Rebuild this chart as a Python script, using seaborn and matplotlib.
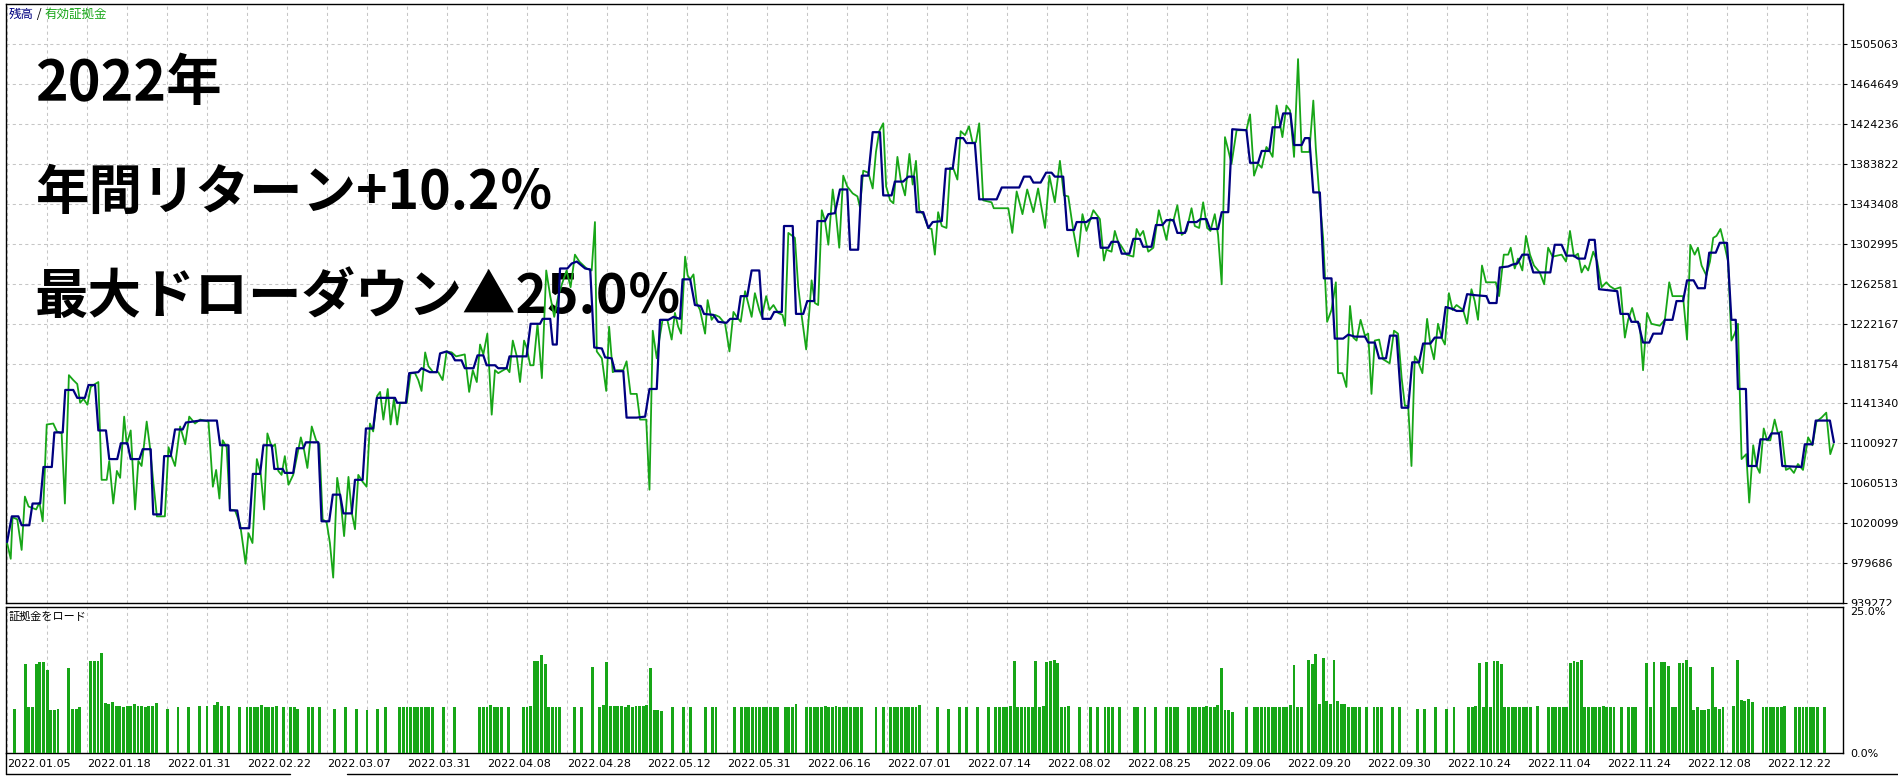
import numpy as np
import pandas as pd
import matplotlib
matplotlib.use("Agg")
import matplotlib.pyplot as plt
from matplotlib.lines import Line2D
from matplotlib.patches import Rectangle
import seaborn as sns

# price scale printed on the right of the tester graph
y_ticks = [939272, 979686, 1020099, 1060513, 1100927, 1141340, 1181754, 1222167,
           1262581, 1302995, 1343408, 1383822, 1424236, 1464649, 1505063]

date_labels = ["2022.01.05", "2022.01.18", "2022.01.31", "2022.02.22", "2022.03.07",
               "2022.03.31", "2022.04.08", "2022.04.28", "2022.05.12", "2022.05.31",
               "2022.06.16", "2022.07.01", "2022.07.14", "2022.08.02", "2022.08.25",
               "2022.09.06", "2022.09.20", "2022.09.30", "2022.10.24", "2022.11.04",
               "2022.11.24", "2022.12.08", "2022.12.22"]

headline = ["2022年", "年間リターン+10.2％", "最大ドローダウン▲25.0％"]

# 有効証拠金 (equity): (trade position, thousand yen)
equity_pts = [
    (0, 1000), (1.0, 984), (1.5, 1026), (2.8, 1024), (4.0, 993), (4.9, 1047), (5.9, 1037), (8.0, 1034), (8.9, 1041), (9.8, 1022),
    (10.9, 1120), (12.7, 1121), (13.7, 1113), (15.0, 1111), (15.9, 1040), (17.0, 1170), (18.2, 1165), (19.3, 1161), (20.1, 1142), (21.0, 1146),
    (22.1, 1140), (23.0, 1158), (24.2, 1161), (25.1, 1163), (26.0, 1064), (27.4, 1064), (28.1, 1083), (29.2, 1040), (30.2, 1073), (31.1, 1066),
    (32.2, 1128), (32.9, 1100), (34.0, 1114), (35.2, 1034), (36.1, 1083), (37.0, 1078), (38.4, 1123), (39.3, 1097), (40.1, 1066), (41.2, 1027),
    (43.4, 1027), (44.4, 1097), (45.3, 1087), (46.2, 1078), (47.6, 1118), (49.0, 1100), (50.1, 1128), (51.7, 1121), (53.1, 1125), (55.4, 1123),
    (56.6, 1057), (57.5, 1074), (58.4, 1045), (59.3, 1104), (60.4, 1097), (61.3, 1034), (62.7, 1033), (64.1, 1019), (65.6, 979), (66.4, 1010),
    (67.5, 1000), (68.7, 1085), (69.8, 1069), (70.7, 1034), (71.6, 1111), (72.8, 1097), (73.7, 1100), (74.6, 1073), (75.5, 1069), (76.4, 1088),
    (77.4, 1059), (78.7, 1069), (80.8, 1107), (81.7, 1094), (82.6, 1076), (83.8, 1118), (85.0, 1104), (85.9, 1100), (86.8, 1024), (87.9, 1021),
    (88.8, 1000), (89.7, 965), (90.8, 1066), (91.6, 1048), (92.7, 1007), (93.9, 1067), (94.8, 1031), (95.7, 1014), (96.6, 1069), (97.8, 1062),
    (98.9, 1057), (99.8, 1121), (100.7, 1113), (101.8, 1149), (102.6, 1153), (103.5, 1125), (104.7, 1156), (105.5, 1120), (106.4, 1146), (107.3, 1120),
    (108.1, 1142), (109.9, 1142), (111.0, 1172), (112.2, 1172), (113.1, 1165), (114.0, 1154), (115.0, 1193), (115.9, 1179), (117.2, 1173), (118.6, 1173),
    (119.8, 1165), (120.9, 1194), (122.3, 1193), (123.5, 1189), (125.9, 1191), (127.1, 1153),
    (128.1, 1175), (129.2, 1163), (130.1, 1201), (131.0, 1191), (132.1, 1212), (133.3, 1130), (134.2, 1175), (135.1, 1172), (137.4, 1177), (138.2, 1173),
    (139.1, 1205), (140.2, 1189), (141.1, 1163), (142.2, 1205), (142.9, 1198), (143.9, 1180), (144.8, 1180), (145.9, 1222), (147.1, 1167), (148.3, 1276),
    (149.4, 1250), (150.5, 1229), (151.6, 1250), (152.6, 1262), (153.9, 1276), (155.0, 1259), (156.2, 1292), (157.4, 1285), (159.4, 1278), (160.8, 1276),
    (161.7, 1325), (162.2, 1194), (163.6, 1187), (164.8, 1154), (165.6, 1219), (166.6, 1173), (167.7, 1175), (169.5, 1175), (170.4, 1184), (171.5, 1151),
    (173.2, 1151), (174.1, 1125), (175.8, 1125), (176.7, 1054), (177.6, 1215), (178.7, 1187), (179.4, 1206), (180.3, 1226), (181.6, 1226), (182.8, 1206),
    (183.7, 1233), (184.6, 1219), (185.4, 1212), (186.5, 1290), (187.2, 1271), (187.9, 1267), (188.8, 1272), (189.7, 1243), (190.6, 1236), (192.0, 1212),
    (192.7, 1246), (193.8, 1226), (194.7, 1231), (195.9, 1229), (197.5, 1222), (198.7, 1194), (199.8, 1234), (200.7, 1229), (201.8, 1224), (203.0, 1255),
    (204.8, 1229), (205.7, 1253), (206.9, 1236), (207.6, 1229), (208.8, 1250), (209.7, 1236), (210.8, 1241), (212.1, 1233), (213.3, 1231), (214.0, 1220),
    (214.9, 1314), (216.7, 1309), (217.6, 1260), (218.6, 1229), (219.8, 1196), (220.7, 1236), (221.3, 1266), (222.2, 1243), (223.1, 1241), (224.1, 1337),
    (225.0, 1326), (225.9, 1302), (227.1, 1358), (228.0, 1333), (228.9, 1299), (230.0, 1372), (231.1, 1361), (232.6, 1354), (233.9, 1351), (234.6, 1340),
    (235.5, 1377), (236.9, 1375), (238.1, 1359), (239.0, 1396), (239.9, 1417), (241.0, 1425), (241.8, 1361), (242.9, 1347), (243.8, 1344), (244.9, 1391),
    (245.8, 1368), (247.0, 1352), (248.2, 1394), (249.1, 1363), (250.0, 1387), (250.9, 1337), (252.0, 1333), (253.4, 1319),
    (254.3, 1318), (255.2, 1292), (256.1, 1335), (257.1, 1321), (258.4, 1319), (259.4, 1380), (260.3, 1379), (261.4, 1368), (262.3, 1417), (263.5, 1413),
    (264.6, 1422), (265.6, 1405), (266.5, 1406), (267.4, 1425), (268.5, 1347), (270.8, 1345), (271.4, 1339), (275.4, 1339), (276.5, 1314), (277.7, 1356),
    (279.3, 1333), (280.6, 1358), (282.3, 1335), (283.6, 1359), (285.5, 1319), (286.7, 1372), (288.2, 1345), (289.6, 1387), (290.7, 1352), (291.9, 1351),
    (293.3, 1316), (294.6, 1290), (295.8, 1333), (296.9, 1316), (298.8, 1337), (300.6, 1328), (301.7, 1286), (302.4, 1297), (303.8, 1295), (304.7, 1316),
    (305.6, 1305), (306.6, 1300), (307.9, 1292), (309.8, 1290), (310.7, 1318), (311.6, 1311), (312.5, 1316), (313.9, 1295), (315.3, 1299), (316.8, 1337),
    (317.8, 1323), (318.9, 1307), (319.9, 1328), (320.8, 1326), (321.9, 1342), (323.1, 1312), (324.4, 1316), (325.8, 1339), (326.7, 1321), (327.9, 1319),
    (329.0, 1345), (330.1, 1319), (331.0, 1316), (332.2, 1333), (333.1, 1312), (334.1, 1262), (335.0, 1411), (335.9, 1398), (336.8, 1384), (338.2, 1418),
    (340.9, 1418), (341.9, 1434), (343.0, 1372), (344.1, 1384), (345.1, 1380), (346.4, 1401), (347.4, 1396), (348.1, 1391), (349.2, 1443), (350.1, 1425),
    (350.8, 1411), (351.9, 1443), (352.9, 1438), (354.0, 1391), (355.1, 1490), (356.1, 1396), (358.2, 1396), (359.3, 1448), (360.0, 1399), (360.9, 1354),
    (362.0, 1309), (363.1, 1224), (364.3, 1236), (365.5, 1264), (366.1, 1172), (367.3, 1172), (368.4, 1158), (369.4, 1240), (370.3, 1208), (371.2, 1205),
    (372.3, 1226), (373.5, 1210), (374.4, 1212), (375.3, 1151), (376.2, 1205), (377.4, 1206), (378.5, 1186), (380.3, 1182),
    (381.5, 1215), (382.6, 1212), (383.6, 1167), (384.5, 1139), (385.4, 1139), (386.3, 1078), (387.2, 1189), (388.1, 1184), (389.3, 1172), (390.6, 1227),
    (391.5, 1201), (392.5, 1186), (393.6, 1222), (394.6, 1208), (395.5, 1201), (396.6, 1253), (397.6, 1236), (398.7, 1241), (400.5, 1236), (401.6, 1222),
    (402.8, 1257), (403.7, 1245), (404.6, 1226), (405.7, 1281), (406.8, 1264), (409.5, 1264), (410.4, 1250), (411.7, 1292), (412.9, 1292), (413.6, 1299),
    (414.7, 1278), (415.6, 1288), (416.8, 1276), (417.8, 1311), (418.9, 1292), (420.0, 1281), (421.6, 1274), (422.8, 1262), (423.9, 1299), (425.1, 1290),
    (427.6, 1292), (428.8, 1285), (429.9, 1316), (431.0, 1290), (432.1, 1293), (433.1, 1274), (434.0, 1281), (434.9, 1276), (436.3, 1295), (437.4, 1285),
    (438.6, 1259), (439.9, 1264), (440.9, 1260), (442.2, 1257), (443.8, 1259), (445.0, 1208), (445.9, 1226), (447.0, 1238), (448.0, 1224), (449.1, 1222),
    (450.0, 1175), (451.1, 1233), (452.3, 1222), (454.6, 1220), (456.0, 1226), (457.2, 1264), (458.1, 1250), (461.0, 1250), (462.1, 1206), (463.0, 1302),
    (464.2, 1292), (465.1, 1299), (466.1, 1281), (467.4, 1271), (468.4, 1285), (469.3, 1309), (470.2, 1311), (471.3, 1318), (472.5, 1300), (473.4, 1285),
    (474.3, 1205), (475.2, 1212), (476.1, 1222), (477.1, 1085), (478.4, 1090), (479.2, 1041), (480.3, 1099), (481.2, 1078), (482.1, 1071), (483.2, 1116),
    (484.1, 1104), (485.0, 1104), (486.2, 1125), (487.1, 1111), (488.1, 1113), (489.3, 1074), (490.4, 1076), (491.5, 1071), (492.6, 1080), (494.0, 1074),
    (495.4, 1107), (496.6, 1099), (497.7, 1123), (499.1, 1127), (500.4, 1132), (501.5, 1090), (502.4, 1100),
]

# 残高 (balance): (trade position, thousand yen)
balance_pts = [
    (0, 1001), (1.3, 1027), (3.1, 1027), (4.0, 1018), (6.1, 1018), (7.0, 1040), (9.1, 1040), (10.0, 1077), (12.3, 1077), (13.0, 1112),
    (15.3, 1112), (16.0, 1155), (18.2, 1155), (19.3, 1147), (21.4, 1147), (22.4, 1160), (24.2, 1160), (25.1, 1114), (27.2, 1114), (28.1, 1085),
    (30.3, 1085), (31.3, 1101), (33.1, 1101), (34.0, 1085), (36.4, 1085), (37.3, 1095), (39.5, 1095), (40.2, 1029), (42.3, 1029), (43.2, 1088),
    (45.0, 1088), (46.2, 1115), (48.3, 1115), (49.2, 1122), (53.1, 1124), (57.7, 1124), (58.6, 1099), (60.9, 1099), (61.3, 1033), (63.3, 1033),
    (64.1, 1015), (66.6, 1015), (67.6, 1070), (69.6, 1070), (70.5, 1099), (72.8, 1099), (73.5, 1075), (75.8, 1075), (76.4, 1071), (78.7, 1071),
    (79.7, 1096), (81.5, 1096), (82.2, 1102), (85.6, 1102), (86.5, 1022), (88.6, 1022), (89.6, 1049), (91.6, 1049), (92.5, 1030), (94.8, 1030),
    (95.7, 1064), (97.8, 1064), (98.7, 1116), (100.7, 1116), (101.7, 1147), (106.7, 1147), (107.3, 1142), (109.7, 1142), (110.6, 1172), (113.1, 1173),
    (114.0, 1177), (116.3, 1173), (118.2, 1173), (119.1, 1192), (120.9, 1194), (122.3, 1191), (123.2, 1185), (125.0, 1185), (125.9, 1177),
    (128.3, 1177), (129.4, 1190), (131.0, 1190), (131.9, 1180), (134.2, 1180), (135.1, 1177), (137.4, 1177), (138.2, 1189), (142.9, 1189), (144.0, 1222),
    (146.6, 1222), (147.3, 1227), (149.4, 1227), (150.1, 1201), (151.2, 1201), (152.1, 1278), (154.1, 1278), (155.3, 1283), (156.7, 1285), (159.0, 1278),
    (160.4, 1277), (161.5, 1198), (163.6, 1197), (164.5, 1188), (166.3, 1187), (167.2, 1174), (169.5, 1174), (170.4, 1127), (173.2, 1127), (175.5, 1128),
    (176.7, 1156), (178.7, 1156), (179.6, 1226), (181.9, 1226), (183.3, 1229), (185.1, 1227), (185.8, 1267), (187.9, 1267), (189.2, 1241), (190.8, 1240),
    (191.7, 1232), (194.3, 1231), (195.6, 1224), (197.9, 1223), (198.9, 1227), (200.9, 1227), (201.8, 1250), (203.6, 1250), (204.8, 1276), (206.9, 1276),
    (207.8, 1227), (210.0, 1227), (211.0, 1234), (213.1, 1234), (213.7, 1321), (216.1, 1321), (217.0, 1232), (219.0, 1232), (220.1, 1245), (222.0, 1245),
    (222.9, 1326), (225.0, 1326), (225.9, 1333), (227.7, 1334), (229.1, 1358), (231.1, 1358), (231.9, 1297), (234.1, 1297), (235.1, 1372), (236.9, 1372),
    (238.1, 1416), (240.1, 1416), (241.0, 1352), (243.3, 1352), (244.2, 1366), (246.5, 1366), (247.9, 1371), (249.5, 1371), (250.2, 1335), (252.0, 1335),
    (253.4, 1319),
    (254.6, 1325), (257.1, 1326), (258.2, 1379), (260.1, 1379), (261.2, 1410), (263.0, 1410), (263.9, 1405), (266.2, 1405), (267.4, 1348), (272.2, 1348),
    (273.6, 1360), (278.4, 1360), (279.7, 1371), (281.4, 1371), (282.3, 1365), (284.3, 1365), (285.8, 1375), (287.3, 1375), (288.2, 1371), (290.5, 1371),
    (291.6, 1317), (293.5, 1317), (294.2, 1325), (296.9, 1325), (298.3, 1329), (299.9, 1329), (300.8, 1299), (302.9, 1299), (303.8, 1305), (305.6, 1305),
    (306.6, 1293), (308.7, 1293), (309.8, 1308), (311.6, 1308), (312.5, 1300), (314.8, 1300), (316.0, 1322), (317.8, 1322), (318.9, 1327), (320.8, 1327),
    (321.9, 1314), (324.0, 1314), (324.9, 1325), (327.2, 1325), (328.3, 1328), (329.9, 1328), (330.9, 1318), (333.1, 1318), (334.1, 1335), (335.9, 1335),
    (337.0, 1419), (340.9, 1418), (341.9, 1385), (344.1, 1385), (345.1, 1397), (347.2, 1397), (348.1, 1421), (350.1, 1421), (351.0, 1435), (353.0, 1435),
    (354.0, 1403), (356.1, 1403), (357.0, 1410), (358.2, 1410), (359.3, 1355), (361.1, 1355), (362.2, 1268), (364.3, 1268), (365.2, 1207), (367.5, 1207),
    (368.9, 1211), (370.7, 1209), (373.5, 1209), (374.4, 1203), (376.2, 1203), (377.4, 1187), (379.3, 1187), (380.4, 1210),
    (382.2, 1210), (383.6, 1137), (385.4, 1137), (386.5, 1183), (388.4, 1183), (389.5, 1202), (391.5, 1202), (392.7, 1208), (394.6, 1208), (395.7, 1239),
    (397.6, 1237), (398.7, 1235), (400.5, 1235), (401.6, 1252), (403.7, 1251), (406.9, 1250), (407.7, 1243), (409.7, 1243), (410.6, 1279), (412.9, 1280),
    (414.1, 1282), (415.4, 1283), (416.8, 1292), (418.4, 1292), (419.8, 1274), (424.5, 1274), (425.7, 1302), (427.6, 1302), (428.9, 1291), (430.9, 1291),
    (432.1, 1288), (434.0, 1288), (435.2, 1307), (436.7, 1307), (437.9, 1257), (442.9, 1255), (443.8, 1232), (445.9, 1232), (446.8, 1224), (448.6, 1224),
    (450.0, 1203), (451.7, 1203), (452.8, 1212), (455.1, 1212), (456.0, 1226), (458.1, 1226), (459.2, 1245), (461.0, 1245), (462.1, 1266), (463.9, 1266),
    (465.1, 1258), (467.0, 1258), (468.2, 1294), (470.0, 1294), (471.1, 1304), (473.1, 1304), (474.3, 1226), (475.5, 1226), (476.1, 1156), (478.3, 1156),
    (478.9, 1078), (481.2, 1078), (482.3, 1105), (484.4, 1105), (485.3, 1111), (487.4, 1111), (488.3, 1078), (493.6, 1077), (494.5, 1100), (496.6, 1100),
    (497.5, 1124), (501.4, 1124), (502.5, 1102),
]

# 証拠金をロード (margin load %): (trade position, percent)
load_bars = [
    (2, 7.6), (5, 15.2), (6, 7.9), (7, 7.9), (8, 15.3), (9, 15.5), (10, 15.5), (11, 14.2), (12, 7.3), (13, 7.3), (14, 7.5),
    (17, 14.5), (18, 7.6), (19, 7.6), (20, 7.8),
    (23, 15.7), (24, 15.7), (25, 15.7), (26, 17.2), (27, 8.6), (28, 8.4), (29, 8.8), (30, 8.0), (31, 8.1), (32, 7.9), (33, 8.0),
    (34, 8.0), (35, 8.4), (36, 8.0), (37, 8.0), (38, 7.8), (39, 8.0), (40, 8.0), (41, 8.5),
    (44, 7.5), (47, 7.8), (50, 7.8), (53, 8.0), (55, 8.0), (57, 8.3), (58, 8.7), (59, 8.1), (61, 8.0),
    (64, 7.9), (66, 7.9), (67, 7.8), (68, 7.9), (69, 7.9), (70, 8.2), (71, 7.8), (72, 7.9), (73, 7.9), (74, 8.0), (76, 7.8),
    (78, 7.9), (79, 7.9), (80, 7.6), (83, 7.8), (84, 7.9), (86, 7.9), (90, 7.6), (93, 7.8), (96, 7.6), (99, 7.4), (102, 7.6), (104, 7.8),
    (108, 7.8), (109, 7.9), (110, 7.9), (111, 7.9), (112, 7.8), (113, 7.9), (114, 7.9), (115, 7.8), (116, 7.9), (117, 7.9), (120, 7.8), (123, 7.9),
    (130, 7.9), (131, 7.9), (132, 7.8), (133, 8.3), (134, 7.9), (135, 7.9), (136, 7.9), (138, 7.8), (142, 7.8), (143, 7.9), (144, 8.1),
    (145, 15.7), (146, 15.7), (147, 16.7), (148, 15.2), (149, 7.9), (150, 7.9), (151, 7.9), (152, 7.9), (156, 7.8), (158, 7.9),
    (161, 14.7), (163, 7.9), (164, 8.2), (165, 15.5), (166, 8.0), (167, 8.0), (168, 8.0), (169, 8.0), (170, 7.9), (171, 8.2),
    (172, 7.9), (173, 8.0), (174, 8.1), (175, 8.0), (176, 8.3), (177, 14.5), (178, 7.4), (179, 7.4), (180, 7.2), (183, 7.8), (186, 7.8), (188, 7.9),
    (192, 7.9), (194, 7.9), (195, 7.9), (200, 7.9), (202, 7.8), (203, 7.9), (204, 7.9), (205, 7.9), (206, 7.9), (207, 7.9), (208, 7.9),
    (209, 7.9), (210, 7.9), (211, 7.9), (212, 7.9), (214, 7.9), (215, 7.9), (216, 7.9), (217, 8.4),
    (220, 7.9), (221, 7.9), (222, 7.9), (223, 7.8), (224, 7.9), (225, 8.1), (226, 7.8), (227, 7.9), (228, 8.1), (229, 7.8), (230, 7.9),
    (231, 7.9), (232, 7.9), (233, 7.9), (234, 7.9), (235, 7.8), (239, 7.8), (241, 7.9), (243, 7.9), (244, 7.9), (245, 7.8), (246, 7.9),
    (247, 7.9), (248, 7.8), (249, 7.9), (250, 7.9), (251, 8.2), (256, 7.8), (259, 7.6), (262, 7.8), (264, 7.9), (267, 7.8),
    (270, 7.9), (272, 7.9), (273, 7.9), (274, 7.9), (275, 7.9), (276, 8.1), (277, 15.7), (278, 7.9), (279, 7.9), (280, 7.9), (281, 7.9),
    (282, 7.9), (283, 15.7), (284, 7.9), (285, 8.1), (286, 15.5), (287, 15.7), (288, 15.9), (289, 15.4), (290, 7.9), (291, 7.9), (292, 8.1),
    (295, 7.9), (298, 7.9), (300, 7.9), (302, 7.9), (303, 7.9), (304, 7.8), (306, 7.9), (310, 7.9), (311, 7.9), (313, 7.9), (316, 7.8),
    (319, 7.9), (320, 7.9), (321, 7.8), (322, 7.9), (325, 7.9), (326, 7.9), (327, 7.9), (328, 7.8), (329, 7.9), (330, 8.1), (331, 7.9),
    (332, 7.9), (333, 8.2), (334, 14.5), (335, 7.3), (336, 7.4), (337, 7.1), (341, 7.8), (343, 7.9), (344, 7.9), (345, 7.9), (346, 7.9),
    (347, 7.9), (348, 7.8), (349, 7.9), (350, 7.9), (351, 7.9), (352, 7.9), (353, 8.2), (354, 15.0), (355, 7.9),
    (356, 7.9), (358, 15.9), (359, 15.2), (360, 16.9), (361, 8.4), (362, 16.2), (363, 8.9), (364, 8.4), (365, 16.0), (366, 8.9),
    (367, 8.4), (368, 8.4), (369, 7.9), (370, 7.9), (371, 7.9), (372, 7.9), (374, 7.9), (376, 7.9), (377, 7.8), (378, 7.9), (381, 7.8),
    (383, 7.9), (388, 7.6), (390, 7.6), (393, 7.8), (396, 7.6), (398, 7.9),
    (402, 7.9), (403, 7.9), (404, 8.1), (405, 15.4), (406, 7.9), (407, 15.5), (408, 7.9), (409, 15.7), (410, 15.7), (411, 15.2),
    (412, 7.8), (413, 7.8), (414, 7.8), (415, 7.9), (416, 7.9), (417, 7.8), (418, 7.9), (419, 7.9), (421, 8.1),
    (424, 7.9), (425, 7.9), (426, 7.9), (427, 7.8), (428, 7.9), (429, 7.9), (430, 15.4), (431, 15.7), (432, 15.5), (433, 15.9),
    (434, 7.9), (435, 7.9), (436, 7.9), (437, 7.9), (438, 7.8), (439, 8.1), (440, 7.9), (441, 7.9), (442, 7.9),
    (444, 7.9), (446, 7.9), (447, 7.9), (448, 7.9), (451, 15.4), (452, 7.9), (453, 15.5), (455, 15.5), (456, 15.5), (457, 14.9),
    (458, 7.9), (459, 7.9), (460, 15.4), (461, 15.4), (462, 15.9), (463, 14.7), (464, 7.3), (465, 7.8), (466, 7.3), (467, 7.3),
    (468, 7.5), (469, 14.7), (470, 7.8), (471, 7.6), (472, 7.8), (475, 8.1), (476, 15.9), (477, 9.1), (478, 8.9), (479, 9.3), (480, 8.8),
    (483, 7.8), (484, 7.9), (485, 7.9), (486, 7.8), (487, 7.9), (488, 7.9), (489, 8.1),
    (492, 7.9), (493, 7.9), (494, 7.9), (495, 7.9), (496, 7.9), (497, 7.9), (498, 7.8), (500, 7.9),
]

GREEN = "#17a617"
NAVY = "#000080"
GRID = "#c6c6c6"
CJK = ["Noto Sans CJK JP", "DejaVu Sans"]

sns.set_style("white")
plt.rcParams["font.family"] = ["DejaVu Sans", "Noto Sans CJK JP"]
plt.rcParams["axes.edgecolor"] = "black"

W, H = 1898, 776
fig = plt.figure(figsize=(W / 100, H / 100), dpi=100)
fig.patch.set_facecolor("white")


def box(left, top, right, bottom):
    # pixel box -> figure fraction
    return [left / W, 1 - bottom / H, (right - left) / W, (bottom - top) / H]


def fpos(x, y):
    return x / W, 1 - y / H


ax = fig.add_axes(box(6, 4, 1843, 603))
ax_load = fig.add_axes(box(6, 607, 1843, 753))
ax_load.set_zorder(2)

eq = pd.DataFrame(equity_pts, columns=["pos", "value"])
eq["value"] = eq["value"] * 1000
bal = pd.DataFrame(balance_pts, columns=["pos", "value"])
bal["value"] = bal["value"] * 1000
load = pd.DataFrame(load_bars, columns=["pos", "pct"])

sns.lineplot(data=eq, x="pos", y="value", ax=ax, color=GREEN, linewidth=1.3,
             estimator=None, sort=False, legend=False, zorder=3)
sns.lineplot(data=bal, x="pos", y="value", ax=ax, color=NAVY, linewidth=1.6,
             estimator=None, sort=False, legend=False, zorder=4)
ax_load.bar(load["pos"], load["pct"], width=0.8, color=GREEN, linewidth=0, zorder=3)

x_max = 505
label_step = 22
for a in (ax, ax_load):
    a.set_xlim(-0.3, x_max)
    a.set_xticks(np.arange(0, x_max, label_step))
    a.set_xticks(np.arange(label_step / 2, x_max, label_step), minor=True)
    a.grid(True, which="both", axis="x", color=GRID, linestyle=(0, (3, 3)), linewidth=0.75)
    a.set_xlabel("")
    a.set_ylabel("")
    for s in a.spines.values():
        s.set_color("black")
        s.set_linewidth(1.0)
    a.set_axisbelow(True)

# main panel
ax.set_ylim(y_ticks[0], 1545800)
ax.set_yticks(y_ticks)
ax.set_yticklabels([str(v) for v in y_ticks])
ax.yaxis.tick_right()
ax.grid(True, which="major", axis="y", color=GRID, linestyle=(0, (3, 3)), linewidth=0.75)
ax.tick_params(axis="y", direction="out", length=3, width=0.8, pad=2, labelsize=8, colors="black")
ax.tick_params(axis="x", which="both", length=0, labelbottom=False)

# margin load panel
ax_load.set_ylim(0, 25)
ax_load.set_yticks([0, 25])
ax_load.set_yticklabels(["0.0%", "25.0%"])
ax_load.yaxis.tick_right()
ax_load.get_yticklabels()[1].set_va("top")
ax_load.tick_params(axis="y", direction="out", length=0, pad=5, labelsize=8, colors="black")
ax_load.set_xticklabels(date_labels)
for t in ax_load.get_xticklabels():
    t.set_ha("left")
ax_load.tick_params(axis="x", which="major", direction="out", length=3, width=0.8, pad=1,
                    labelsize=8, colors="black")
ax_load.tick_params(axis="x", which="minor", length=0)

# tester clips the lowest price label under the lower panel
fig.add_artist(Rectangle(fpos(1843.5, H), 1 - 1843.5 / W, (H - 606) / H,
                         transform=fig.transFigure, facecolor="white", edgecolor="none", zorder=1))

# bottom frame lines
fig.add_artist(Line2D([6 / W, 290 / W], [1 - 774 / H] * 2, transform=fig.transFigure,
                      color="black", linewidth=1.0, zorder=5))
fig.add_artist(Line2D([347 / W, 1], [1 - 774 / H] * 2, transform=fig.transFigure,
                      color="black", linewidth=1.0, zorder=5))
fig.add_artist(Line2D([6 / W, 6 / W], [1 - 753 / H, 1 - 774 / H], transform=fig.transFigure,
                      color="black", linewidth=1.0, zorder=5))

# series legend in the corner
t1 = ax.text(*fpos(9, 14), "残高", transform=fig.transFigure, color=NAVY, fontsize=9,
             family=CJK, va="center", ha="left", zorder=6)
t2 = ax.annotate(" / ", xy=(1, 0), xycoords=t1, color="black", fontsize=9, family=CJK,
                 va="bottom", ha="left", zorder=6)
ax.annotate("有効証拠金", xy=(1, 0), xycoords=t2, color=GREEN, fontsize=9, family=CJK,
            va="bottom", ha="left", zorder=6)
ax_load.text(*fpos(9, 617), "証拠金をロード", transform=fig.transFigure, color="black",
             fontsize=8, family=CJK, va="center", ha="left")

# headline overlay
for line, y, size in zip(headline, [84, 193, 297], [40, 38.5, 38.5]):
    ax.text(*fpos(35, y), line, transform=fig.transFigure, fontsize=size, fontweight="bold",
            family=CJK, color="black", va="center", ha="left", zorder=2)

fig.savefig("out.png", dpi=100)
